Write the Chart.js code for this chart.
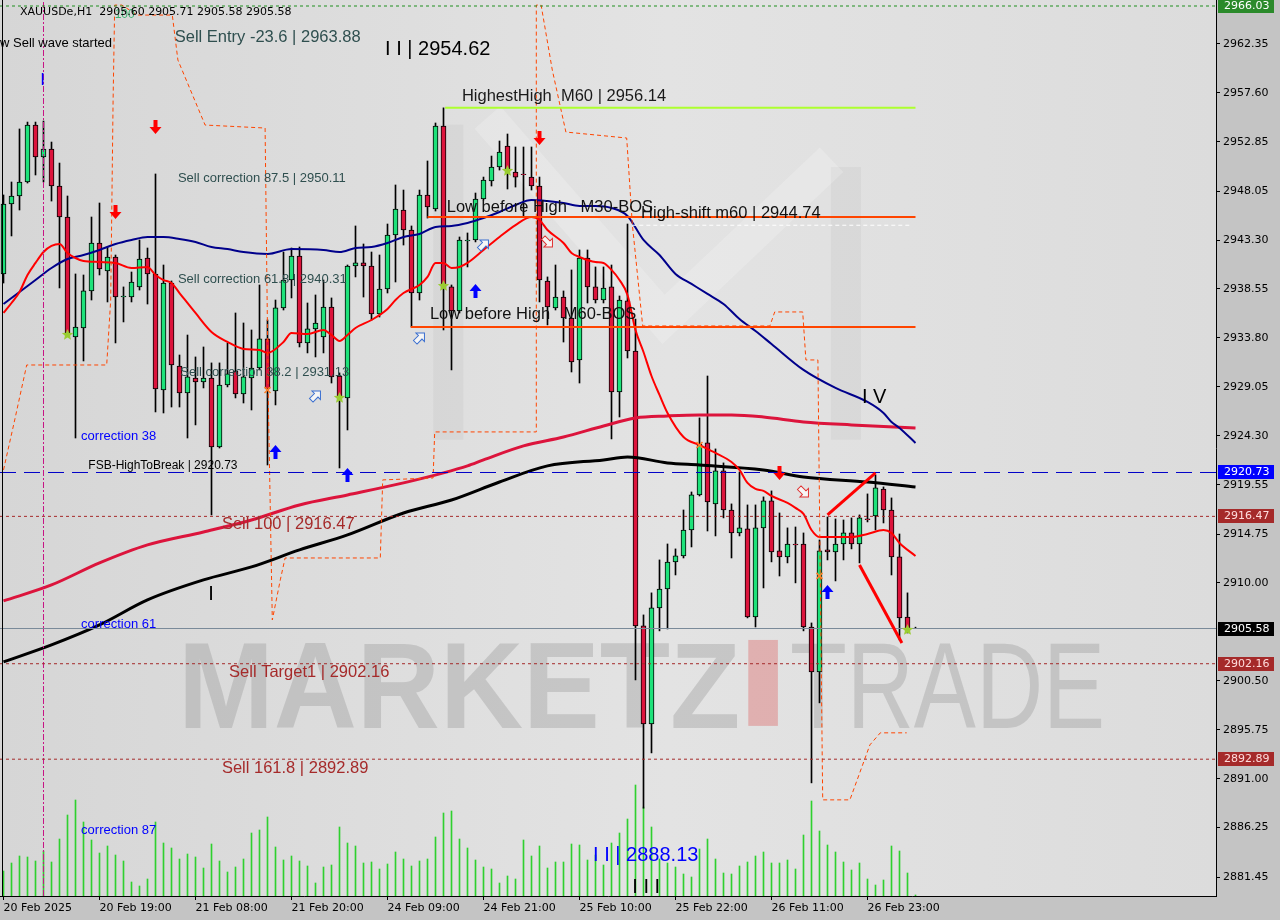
<!DOCTYPE html>
<html>
<head>
<meta charset="utf-8">
<title>XAUUSDe H1</title>
<script src="https://cdn.jsdelivr.net/npm/chart.js@4.4.1/dist/chart.umd.min.js"></script>
<style>
  html, body { margin: 0; padding: 0; background: #c4c4c4; }
  #wrap { width: 1280px; height: 920px; }
</style>
</head>
<body>
<div id="wrap"><canvas id="chart" width="1280" height="920"></canvas></div>
<script>
// ---- data ----
const symbol = 'XAUUSDe';
const period = 'H1';

const opens = [2940.01,2946.80,2947.58,2948.94,2954.47,2951.37,2952.14,2948.55,2945.54,2933.89,
  2934.76,2938.36,2943.02,2940.30,2941.66,2937.77,2937.77,2938.75,2941.56,2940.01,
  2928.74,2939.13,2931.07,2928.45,2929.91,2929.52,2929.91,2923.21,2929.23,2930.59,
  2928.36,2929.91,2930.88,2933.70,2928.65,2936.71,2939.42,2941.75,2933.31,2934.67,
  2933.89,2936.80,2930.10,2927.97,2940.78,2941.08,2940.78,2936.12,2938.55,2943.79,
  2946.22,2944.28,2938.16,2947.68,2946.32,2954.38,2938.75,2936.42,2943.21,2943.31,
  2947.29,2949.04,2950.40,2952.43,2949.91,2949.72,2949.42,2948.55,2939.33,2936.71,
  2937.77,2935.73,2931.66,2941.56,2938.75,2937.48,2938.75,2928.55,2937.39,2932.53,
  2905.83,2896.32,2907.58,2909.42,2912.04,2912.63,2915.15,2918.55,2923.60,2917.68,
  2920.88,2917.09,2914.86,2915.25,2906.70,2915.35,2917.97,2913.12,2912.53,2913.79,
  2913.79,2905.73,2901.36,2913.21,2913.02,2913.79,2914.86,2913.79,2916.22,2916.51,
  2919.13,2917.09,2912.53,2906.70,2905.60];
const highs = [2947.68,2948.94,2954.09,2954.76,2954.76,2954.86,2952.82,2950.78,2947.58,2940.01,
  2939.91,2945.54,2946.90,2942.63,2941.85,2938.75,2940.20,2943.31,2942.53,2949.72,
  2940.88,2939.33,2932.14,2934.08,2931.95,2932.92,2931.37,2931.37,2933.31,2936.22,
  2935.25,2934.57,2938.94,2935.54,2937.48,2942.14,2942.53,2942.63,2937.19,2937.97,
  2939.42,2937.68,2930.40,2940.88,2944.67,2942.92,2942.14,2941.85,2944.86,2948.65,
  2948.16,2944.67,2948.16,2950.98,2954.67,2956.14,2938.94,2943.60,2943.99,2947.87,
  2949.42,2951.46,2952.92,2953.60,2952.34,2952.34,2952.34,2949.42,2939.72,2940.88,
  2938.36,2940.40,2942.34,2942.34,2940.69,2940.69,2940.88,2937.87,2944.86,2935.64,
  2906.90,2909.04,2912.24,2913.79,2913.31,2917.09,2918.84,2926.03,2930.10,2923.02,
  2921.66,2917.68,2920.78,2917.58,2917.58,2918.36,2918.94,2916.80,2915.35,2915.44,
  2914.86,2906.12,2914.18,2916.41,2916.22,2916.12,2916.32,2916.61,2918.65,2920.49,
  2919.33,2918.26,2914.76,2909.04,2905.71];
const lows = [2939.13,2943.70,2946.22,2948.84,2949.62,2948.94,2947.09,2938.65,2933.99,2924.08,
  2931.56,2937.48,2939.91,2937.29,2933.31,2935.35,2937.29,2938.45,2937.09,2926.61,
  2926.51,2927.09,2927.09,2924.08,2925.35,2928.94,2916.61,2923.11,2929.04,2927.97,
  2927.48,2926.80,2930.69,2921.46,2927.29,2936.51,2937.68,2932.92,2932.34,2931.95,
  2932.34,2929.42,2921.17,2924.86,2939.72,2937.77,2935.54,2935.83,2938.16,2939.23,
  2942.82,2934.86,2937.48,2945.44,2946.12,2934.57,2930.69,2936.22,2940.69,2943.12,
  2947.19,2948.55,2950.10,2948.26,2948.45,2945.54,2948.16,2937.29,2935.06,2936.51,
  2933.40,2930.49,2929.42,2937.19,2937.19,2937.19,2923.99,2926.12,2931.85,2900.59,
  2888.13,2893.50,2905.35,2905.54,2910.78,2912.43,2913.50,2918.45,2915.05,2914.57,
  2916.32,2912.43,2914.57,2906.61,2905.73,2909.52,2912.05,2910.68,2911.95,2910.01,
  2905.35,2890.59,2898.36,2912.24,2910.20,2912.24,2913.31,2911.95,2915.93,2915.15,
  2915.83,2910.78,2904.47,2905.15,2905.58];
const closes = [2946.80,2947.58,2948.94,2954.47,2951.37,2952.14,2948.55,2945.54,2934.28,2934.86,
  2938.36,2943.02,2940.49,2941.66,2937.77,2937.87,2939.23,2941.46,2940.01,2928.84,
  2939.13,2931.17,2928.45,2930.01,2929.52,2929.91,2923.21,2929.23,2930.30,2928.36,
  2930.01,2930.88,2933.70,2928.84,2936.71,2939.42,2941.75,2933.31,2934.67,2935.25,
  2936.80,2930.01,2928.07,2940.78,2941.08,2940.78,2936.12,2938.55,2943.79,2946.32,
  2944.28,2938.16,2947.68,2946.51,2954.38,2938.65,2936.42,2943.31,2943.31,2947.29,
  2949.13,2950.40,2951.85,2950.20,2949.42,2949.64,2948.55,2939.42,2936.80,2937.77,
  2935.73,2931.46,2941.56,2938.75,2937.48,2938.65,2928.55,2937.48,2932.53,2905.83,
  2896.32,2907.58,2909.42,2912.04,2912.63,2915.15,2918.55,2923.50,2917.87,2920.88,
  2917.09,2914.86,2915.35,2906.70,2915.35,2917.97,2913.02,2912.53,2913.79,2913.70,
  2905.73,2901.36,2913.12,2913.02,2913.79,2914.86,2913.79,2916.32,2916.15,2919.23,
  2917.09,2912.53,2906.61,2905.54,2905.58];
const volumes = [250,330,400,390,350,450,340,570,810,960,
  740,560,430,500,410,350,140,100,170,740,
  530,480,370,420,390,280,520,350,240,290,
  370,630,660,790,490,360,400,350,300,130,
  290,310,690,530,500,330,340,270,320,440,
  370,300,350,370,590,830,850,570,480,360,
  290,270,130,200,170,560,400,500,280,340,
  340,520,510,360,410,310,530,630,770,1110,
  890,690,370,330,290,220,190,470,570,370,
  230,220,300,340,400,440,330,330,360,270,
  610,950,650,510,440,340,260,330,170,110,
  160,500,450,230,10];

const xTickIdx = [0,12,24,36,48,60,72,84,96,108];
const xTickLabels = ['20 Feb 2025','20 Feb 19:00','21 Feb 08:00','21 Feb 20:00','24 Feb 09:00',
  '24 Feb 21:00','25 Feb 10:00','25 Feb 22:00','26 Feb 11:00','26 Feb 23:00'];
const yTicks = [2962.35,2957.60,2952.85,2948.05,2943.30,2938.55,2933.80,2929.05,2924.30,
  2919.55,2914.75,2910.00,2900.50,2895.75,2891.00,2886.25,2881.45];

// moving averages, read at sampled bars
const fastIdx = [0,1,2,3,4,5,6,7,8,9,10,12,14,16,18,19,20,21,22,24,26,28,30,32,33,35,36,38,40,41,42,43,44,46,48,49,
  50,52,53,54,55,56,57,58,60,62,64,66,67,68,70,71,72,74,75,76,77,78,79,80,81,82,83,85,87,89,91,92,93,94,95,96,98,99,
  100,101,102,104,106,108,110,111,112,114];
const fastVal = [2936.22,2937.19,2938.26,2939.91,2941.08,2942.14,2942.73,2942.92,2942.05,2941.56,2941.27,
  2941.17,2941.08,2940.59,2940.69,2939.91,2939.42,2939.13,2938.16,2936.22,2934.38,2933.41,2932.73,2932.63,2932.34,
  2933.41,2934.28,2934.18,2934.57,2934.08,2933.50,2934.08,2934.76,2935.54,2936.61,2937.48,2938.16,2938.94,2939.72,
  2941.08,2941.08,2940.59,2940.69,2941.08,2942.34,2943.60,2944.76,2945.54,2945.25,2944.28,2943.02,2942.05,2941.66,
  2941.17,2941.08,2940.40,2939.42,2937.97,2934.57,2932.43,2930.10,2928.26,2926.51,2924.18,2923.40,2922.63,2921.75,
  2920.98,2919.72,2919.13,2918.94,2918.45,2917.77,2917.29,2916.71,2915.15,2914.47,2914.47,2914.47,2914.76,2915.15,
  2914.86,2913.89,2912.63];
const navyIdx = [0,2,4,6,8,10,12,14,16,18,20,22,24,26,28,30,33,36,40,42,44,46,48,50,52,54,56,58,60,62,
  64,66,68,70,72,74,76,78,80,82,84,86,88,90,92,94,96,100,104,108,110,111,112,114];
const navyVal = [2937.09,2938.26,2939.42,2940.59,2941.46,2941.85,2942.34,2942.92,2943.31,2943.60,
  2943.60,2943.41,2943.11,2942.63,2942.43,2942.14,2941.95,2942.43,2942.34,2942.14,
  2942.53,2942.63,2943.02,2943.60,2943.89,2944.57,2944.67,2944.96,2945.44,2946.03,
  2946.71,2947.19,2947.09,2946.90,2946.61,2946.61,2946.42,2945.64,2943.31,2941.85,
  2940.01,2939.04,2938.07,2937.09,2935.64,2934.47,2933.21,2930.69,2928.94,2927.58,
  2926.51,2925.64,2925.06,2923.60];
const slowIdx = [0,6,12,18,25,31,37,43,50,55,58,60,65,70,75,79,83,87,91,95,100,106,114];
const slowVal = [2908.26,2909.81,2911.95,2913.70,2914.96,2916.12,2917.58,2918.55,2919.72,2920.69,2921.37,
  2921.95,2923.31,2924.18,2925.25,2926.03,2926.22,2926.32,2926.32,2926.12,2925.64,2925.35,2925.06];
const blackIdx = [0,6,12,18,25,31,37,43,50,56,62,68,75,78,83,87,95,100,108,114];
const blackVal = [2902.34,2903.99,2905.93,2908.36,2910.30,2911.56,2913.21,2914.67,2916.80,2918.06,
  2919.81,2921.37,2921.95,2922.24,2921.66,2921.46,2920.98,2920.30,2919.81,2919.33];

// stepped channel (dashed orange)
const envIdx = [0,1.4,2.9,12.9,13.4,13.7,13.9,14.8,16.7,21.1,21.8,25.2,32.7,33.1,33.6,34.6,35.2,47.1,47.4,53.7,
  53.9,66.6,66.6,67.2,68.6,70.3,77.9,78.6,79.9,95.8,96.4,99.9,100.3,101.8,102.4,105.8,108.3,109.6,112.9];
const envVal = [2920.98,2925.83,2931.17,2931.17,2937.48,2956.90,2966.12,2966.12,2965.15,2965.15,
  2960.78,2954.47,2954.18,2927.77,2906.41,2910.30,2912.43,2912.43,2920.01,2920.20,
  2924.67,2924.67,2966.12,2966.12,2959.81,2953.79,2953.21,2944.86,2934.96,2934.96,
  2936.32,2936.32,2931.66,2931.66,2888.94,2888.94,2894.28,2895.45,2895.45];

// horizontal levels across the chart
const levelPrices = [2966.03, 2920.73, 2916.47, 2905.58, 2902.16, 2892.89];
// partial levels: start bar, end bar, price
const segFrom = [55.2, 53.0, 78.6, 50.9];
const segTo = [114, 114, 113.3, 114];
const segPrice = [2956.14, 2945.54, 2944.74, 2934.86];
// trend lines
const trendFromIdx = [103, 107];
const trendFromVal = [2916.61, 2911.75];
const trendToIdx = [109, 112.3];
const trendToVal = [2920.69, 2904.18];
const waveBar = 5;

// signal markers
const sellArrowIdx = [19, 14, 67, 97];
const sellArrowVal = [2954.28, 2946.03, 2953.21, 2920.69];
const buyArrowIdx = [34, 43, 59, 103];
const buyArrowVal = [2922.72, 2920.49, 2938.36, 2909.13];
const hollowBuyIdx = [39, 52, 60];
const hollowBuyVal = [2928.16, 2933.79, 2942.82];
const hollowSellIdx = [68, 100];
const hollowSellVal = [2943.12, 2918.84];
const starIdx = [8, 42, 55, 63, 113];
const starVal = [2934.09, 2927.97, 2938.84, 2950.01, 2905.44];
const crossIdx = [33, 87, 102];
const crossVal = [2928.74, 2923.40, 2910.69];

// text notes on the chart
const noteText = ['Sell Entry -23.6 | 2963.88','I I | 2954.62','HighestHigh  M60 | 2956.14',
  'Sell correction 87.5 | 2950.11','Low before High   M30-BOS','High-shift m60 | 2944.74',
  'Sell correction 61.8 | 2940.31','Low before High   M60-BOS','Sell correction 38.2 | 2931.13','I V',
  'correction 38','FSB-HighToBreak | 2920.73','Sell 100 | 2916.47','I','correction 61',
  'Sell Target1 | 2902.16','Sell 161.8 | 2892.89','correction 87','I I | 2888.13','I I I',
  'w Sell wave started','100','I'];
const noteIdx = [21.4,47.7,57.3,21.8,55.4,79.7,21.8,53.3,22.1,107.3,9.7,10.6,27.3,25.6,9.7,28.2,27.3,9.7,73.7,78.6,-0.44,13.9,4.6];
const notePrice = [2963.02,2961.85,2957.29,2949.33,2946.51,2945.93,2939.52,2936.03,2930.49,2927.97,
  2924.28,2921.37,2915.64,2908.84,2905.93,2901.27,2891.95,2885.93,2883.50,2880.39,2962.44,2965.15,2958.84];

// ---- styles ----
const ARIAL = '"Liberation Sans", Arial, sans-serif';
const TAHOMA = '"DejaVu Sans", Tahoma, sans-serif';
const BULL = '#1ee27a';
const BEAR = '#dc143c';
const noteStyle = [
  ['16.5px', '#2f4f4f'], ['20px', '#000'], ['16.5px', '#1a1a1a'], ['13px', '#2f4f4f'], ['16.5px', '#111'],
  ['16.5px', '#111'], ['13px', '#2f4f4f'], ['16.5px', '#111'], ['13px', '#2f4f4f'], ['20px', '#000'],
  ['13px', '#0000ff'], ['12px', '#000'], ['16.5px', '#a52a2a'], ['20px', '#000'], ['13px', '#0000ff'],
  ['16.5px', '#a52a2a'], ['16.5px', '#a52a2a'], ['13px', '#0000ff'], ['20px', '#0000ff'], ['20px', '#000'],
  ['13px', '#000'], ['12px', '#3cb371'], ['17px', '#0000ff']
];
const levelLine = [
  { color: '#1f8f1f', dash: [3, 3] },
  { color: '#0000c8', dash: [16, 8] },
  { color: '#a52a2a', dash: [3, 3] },
  { color: '#7a8a99', dash: [] },
  { color: '#a52a2a', dash: [3, 3] },
  { color: '#a52a2a', dash: [3, 3] }
];
const levelBox = [
  ['#2b8a2b', '#ffffff'], ['#0000ff', '#ffffff'], ['#a52a2a', '#ffdcdc'],
  ['#000000', '#ffffff'], ['#a52a2a', '#ffdcdc'], ['#a52a2a', '#ffdcdc']
];
const segStyle = [
  { color: '#adff2f', width: 2, dash: [] },
  { color: '#ff4500', width: 2, dash: [] },
  { color: '#ffffff', width: 1, dash: [4, 3] },
  { color: '#ff4500', width: 2, dash: [] }
];

const X_MIN = -0.4375, X_MAX = 151.5625;
const Y_MIN = 2879.605, Y_MAX = 2966.613;

const pts = (xs, ys) => xs.map((v, k) => ({ x: v, y: ys[k] }));
const bars = opens.map((o, i) => i);

const datasets = [];

datasets.push({
  type: 'bar', label: 'volume', yAxisID: 'yv', order: 30, grouped: false,
  data: volumes.map((v, i) => ({ x: i, y: v })),
  backgroundColor: '#2fd02f', barThickness: 1
});

levelPrices.forEach((p, k) => {
  datasets.push({
    type: 'line', order: 4, data: pts([X_MIN, X_MAX], [p, p]),
    borderColor: levelLine[k].color, borderWidth: 1, borderDash: levelLine[k].dash,
    pointRadius: 0
  });
});

datasets.push({
  type: 'line', order: 4, data: pts([waveBar, waveBar], [Y_MIN, Y_MAX]),
  borderColor: '#c71585', borderWidth: 1, borderDash: [6, 2, 2, 2], pointRadius: 0
});

datasets.push({
  type: 'line', order: 4, data: pts(envIdx, envVal),
  borderColor: '#ff4500', borderWidth: 1, borderDash: [4, 3], pointRadius: 0, tension: 0
});

datasets.push({
  type: 'bar', label: 'wick', order: 12, grouped: false,
  data: bars.map(i => ({ x: i, y: [lows[i], highs[i]] })),
  backgroundColor: '#000', barThickness: 1
});
datasets.push({
  type: 'bar', label: 'body', order: 11, grouped: false,
  data: bars.map(i => ({ x: i, y: [opens[i], closes[i]] })),
  backgroundColor: bars.map(i => closes[i] >= opens[i] ? BULL : BEAR),
  borderColor: '#000', borderWidth: 1, borderSkipped: false, barThickness: 5
});

const maLine = (xs, ys, color, width, order) => ({
  type: 'line', order, data: pts(xs, ys), borderColor: color, borderWidth: width,
  pointRadius: 0, cubicInterpolationMode: 'monotone'
});
datasets.push(maLine(slowIdx, slowVal, '#dc143c', 3, 8));
datasets.push(maLine(blackIdx, blackVal, '#000000', 3, 7));
datasets.push(maLine(navyIdx, navyVal, '#00008b', 2, 6));
datasets.push(maLine(fastIdx, fastVal, '#ff0000', 2, 5));

segPrice.forEach((p, k) => {
  datasets.push({
    type: 'line', order: 3, data: pts([segFrom[k], segTo[k]], [p, p]),
    borderColor: segStyle[k].color, borderWidth: segStyle[k].width, borderDash: segStyle[k].dash,
    pointRadius: 0
  });
});
trendFromIdx.forEach((a, k) => {
  datasets.push({
    type: 'line', order: 2, data: pts([a, trendToIdx[k]], [trendFromVal[k], trendToVal[k]]),
    borderColor: '#ff0000', borderWidth: 3, pointRadius: 0
  });
});

// ---- drawing helpers ----
function solidArrow(ctx, x, y, dir, color) {
  ctx.save();
  ctx.translate(x, y);
  if (dir < 0) ctx.scale(1, -1);
  ctx.fillStyle = color;
  ctx.beginPath();
  ctx.moveTo(-2, -7); ctx.lineTo(2, -7); ctx.lineTo(2, 0); ctx.lineTo(6, 0);
  ctx.lineTo(0, 7); ctx.lineTo(-6, 0); ctx.lineTo(-2, 0);
  ctx.closePath(); ctx.fill();
  ctx.restore();
}
function hollowArrow(ctx, x, y, angle, color) {
  ctx.save();
  ctx.translate(x, y);
  ctx.rotate(angle);
  ctx.beginPath();
  ctx.moveTo(0, -7); ctx.lineTo(6, -1); ctx.lineTo(2.5, -1); ctx.lineTo(2.5, 6);
  ctx.lineTo(-2.5, 6); ctx.lineTo(-2.5, -1); ctx.lineTo(-6, -1);
  ctx.closePath();
  ctx.fillStyle = 'rgba(255,255,255,0.7)';
  ctx.fill();
  ctx.strokeStyle = color; ctx.lineWidth = 1; ctx.stroke();
  ctx.restore();
}
function star(ctx, x, y, r, color) {
  ctx.save();
  ctx.fillStyle = color;
  ctx.beginPath();
  for (let k = 0; k < 10; k++) {
    const rr = k % 2 === 0 ? r : r * 0.45;
    const a = -Math.PI / 2 + k * Math.PI / 5;
    ctx.lineTo(x + rr * Math.cos(a), y + rr * Math.sin(a));
  }
  ctx.closePath(); ctx.fill();
  ctx.restore();
}

const backdrop = {
  id: 'backdrop',
  beforeDraw(chart) {
    const { ctx, chartArea: a } = chart;
    ctx.save();
    ctx.fillStyle = '#c4c4c4';
    ctx.fillRect(0, 0, chart.width, chart.height);
    const g = ctx.createLinearGradient(a.left, 0, a.right, 0);
    g.addColorStop(0, '#d6d6d6');
    g.addColorStop(0.55, '#e3e3e3');
    g.addColorStop(1, '#dcdcdc');
    ctx.fillStyle = g;
    ctx.fillRect(a.left, a.top, a.right - a.left, a.bottom - a.top);
    ctx.restore();
  },
  beforeDatasetsDraw(chart) {
    const { ctx, chartArea: a, scales: { x, y } } = chart;
    ctx.save();
    ctx.beginPath(); ctx.rect(a.left, a.top, a.right - a.left, a.bottom - a.top); ctx.clip();
    // faint logo: darker legs, lighter diagonal
    ctx.lineJoin = 'miter';
    ctx.strokeStyle = 'rgba(150,150,150,0.10)';
    ctx.lineWidth = 30;
    ctx.beginPath();
    ctx.moveTo(x.getPixelForValue(55.6), y.getPixelForValue(2923.9));
    ctx.lineTo(x.getPixelForValue(55.6), y.getPixelForValue(2954.5));
    ctx.moveTo(x.getPixelForValue(105.3), y.getPixelForValue(2950.4));
    ctx.lineTo(x.getPixelForValue(105.3), y.getPixelForValue(2923.9));
    ctx.stroke();
    ctx.strokeStyle = 'rgba(255,255,255,0.20)';
    ctx.lineWidth = 34;
    ctx.beginPath();
    ctx.moveTo(x.getPixelForValue(60.5), y.getPixelForValue(2955.2));
    ctx.lineTo(x.getPixelForValue(82.5), y.getPixelForValue(2935.6));
    ctx.lineTo(x.getPixelForValue(103.5), y.getPixelForValue(2951.1));
    ctx.stroke();
    // watermark text
    const top = y.getPixelForValue(2904.47), bot = y.getPixelForValue(2895.93);
    const size = Math.round((bot - top) / 0.72);
    const put = (txt, weight, color, i0, i1) => {
      ctx.font = `${weight} ${size}px ${ARIAL}`;
      const w = ctx.measureText(txt).width;
      const x0 = x.getPixelForValue(i0), x1 = x.getPixelForValue(i1);
      ctx.save();
      ctx.translate(x0, bot);
      ctx.scale((x1 - x0) / w, 1);
      ctx.fillStyle = color;
      ctx.textBaseline = 'alphabetic';
      ctx.fillText(txt, 0, 0);
      ctx.restore();
    };
    put('MARKETZ', 'bold', 'rgba(150,150,150,0.36)', 21.8, 92.1);
    ctx.fillStyle = 'rgba(220,60,60,0.3)';
    ctx.fillRect(x.getPixelForValue(93.1), top, x.getPixelForValue(96.8) - x.getPixelForValue(93.1), bot - top - 2);
    put('TRADE', 'normal', 'rgba(150,150,150,0.36)', 98.3, 137.7);
    ctx.restore();
  },
  afterDatasetsDraw(chart) {
    const { ctx, chartArea: a, scales: { x, y } } = chart;
    const px = i => x.getPixelForValue(i), py = v => y.getPixelForValue(v);
    ctx.save();
    ctx.beginPath(); ctx.rect(a.left, a.top, a.right - a.left, a.bottom - a.top); ctx.clip();
    sellArrowIdx.forEach((i, k) => solidArrow(ctx, px(i), py(sellArrowVal[k]), 1, '#ff0000'));
    buyArrowIdx.forEach((i, k) => solidArrow(ctx, px(i), py(buyArrowVal[k]), -1, '#0000ff'));
    hollowBuyIdx.forEach((i, k) => hollowArrow(ctx, px(i), py(hollowBuyVal[k]), Math.PI / 4, '#3a6fd0'));
    hollowSellIdx.forEach((i, k) => hollowArrow(ctx, px(i), py(hollowSellVal[k]), Math.PI * 3 / 4, '#e03030'));
    starIdx.forEach((i, k) => star(ctx, px(i), py(starVal[k]), 6, '#9acd32'));
    ctx.strokeStyle = '#ff7f27'; ctx.lineWidth = 1.5;
    crossIdx.forEach((i, k) => {
      const cx = px(i), cy = py(crossVal[k]);
      ctx.beginPath();
      ctx.moveTo(cx - 3, cy - 3); ctx.lineTo(cx + 3, cy + 3);
      ctx.moveTo(cx + 3, cy - 3); ctx.lineTo(cx - 3, cy + 3);
      ctx.stroke();
    });
    ctx.textBaseline = 'middle'; ctx.textAlign = 'left';
    noteText.forEach((t, k) => {
      ctx.font = `${noteStyle[k][0]} ${ARIAL}`;
      ctx.fillStyle = noteStyle[k][1];
      ctx.fillText(t, px(noteIdx[k]), py(notePrice[k]));
    });
    ctx.restore();
  },
  afterDraw(chart) {
    const { ctx, chartArea: a, scales: { y } } = chart;
    ctx.save();
    // frame on the left
    ctx.strokeStyle = '#000'; ctx.lineWidth = 1;
    ctx.beginPath(); ctx.moveTo(a.left + 2.5, a.top); ctx.lineTo(a.left + 2.5, a.bottom); ctx.stroke();
    // price boxes on the axis
    ctx.font = `11px ${TAHOMA}`;
    ctx.textBaseline = 'middle'; ctx.textAlign = 'left';
    levelPrices.forEach((p, k) => {
      const yy = Math.round(y.getPixelForValue(p));
      ctx.fillStyle = levelBox[k][0];
      ctx.fillRect(a.right + 2, yy - 7, 56, 14);
      ctx.fillStyle = levelBox[k][1];
      ctx.fillText(p.toFixed(2), a.right + 8, yy + 0.5);
    });
    // header line
    const n = opens.length - 1;
    ctx.fillStyle = '#000';
    ctx.fillText(`${symbol},${period}  ${opens[n].toFixed(2)} ${highs[n].toFixed(2)} ${lows[n].toFixed(2)} ${closes[n].toFixed(2)}`,
      a.left + 20, a.top + 12);
    ctx.restore();
  }
};

Chart.defaults.font.family = TAHOMA;
Chart.defaults.font.size = 11;
Chart.defaults.color = '#000';

new Chart(document.getElementById('chart').getContext('2d'), {
  type: 'line',
  data: { datasets },
  options: {
    responsive: false,
    animation: false,
    devicePixelRatio: 1,
    layout: { padding: 0 },
    plugins: { legend: { display: false }, tooltip: { enabled: false }, title: { display: false } },
    scales: {
      x: {
        type: 'linear', min: X_MIN, max: X_MAX, offset: false, position: 'bottom',
        afterBuildTicks: axis => { axis.ticks = xTickIdx.map(v => ({ value: v })); },
        afterFit: s => { s.height = 24; s.paddingLeft = 0; s.paddingRight = 0; },
        ticks: {
          autoSkip: false, maxRotation: 0, minRotation: 0, align: 'start', padding: 2, color: '#000',
          font: { family: TAHOMA, size: 11 },
          callback: v => { const k = xTickIdx.indexOf(v); return k >= 0 ? xTickLabels[k] : ''; }
        },
        grid: { drawOnChartArea: false, drawTicks: true, tickLength: 4, color: '#000', offset: false },
        border: { display: true, color: '#000' }
      },
      y: {
        type: 'linear', position: 'right', min: Y_MIN, max: Y_MAX,
        afterBuildTicks: axis => { axis.ticks = yTicks.map(v => ({ value: v })); },
        afterFit: s => { s.width = 64; s.paddingTop = 0; s.paddingBottom = 0; },
        ticks: {
          autoSkip: false, padding: 3, color: '#000', font: { family: TAHOMA, size: 11 },
          callback: v => Number(v).toFixed(2)
        },
        grid: { drawOnChartArea: false, drawTicks: true, tickLength: 4, color: '#000' },
        border: { display: true, color: '#000' }
      },
      yv: { display: false, min: 0, max: 8960 }
    }
  },
  plugins: [backdrop]
});
</script>
</body>
</html>
